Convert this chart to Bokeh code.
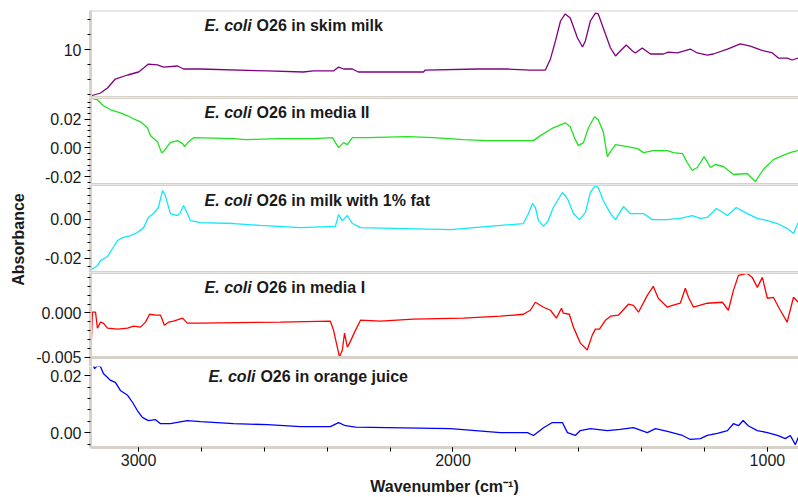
import math
from math import pi

from bokeh.plotting import figure
from bokeh.layouts import column, row
from bokeh.models import Range1d, SingleIntervalTicker, FixedTicker, NumeralTickFormatter, Label, Span
from bokeh.embed import file_html
from bokeh.resources import INLINE

# --- FTIR absorbance spectra of E. coli O26 in five matrices ---------------

wn_skim = [3153, 3121, 3099, 3074, 3035, 3000, 2984, 2969, 2940, 2921, 2876, 2857, 2803, 2590, 2476,
           2444, 2380, 2364, 2348, 2320, 2301, 2094, 2088, 1922, 1827, 1754, 1706, 1690, 1674, 1658,
           1643, 1627, 1604, 1588, 1579, 1563, 1547, 1538, 1522, 1499, 1483, 1468, 1449, 1429, 1420,
           1398, 1372, 1331, 1315, 1286, 1245, 1223, 1191, 1172, 1127, 1086, 1054, 1022, 984, 965,
           937, 921, 902]
abs_skim = [6.90, 7.10, 7.43, 8.03, 8.30, 8.50, 8.77, 9.03, 8.97, 8.83, 8.90, 8.70, 8.70, 8.57, 8.50,
            8.57, 8.57, 8.83, 8.70, 8.70, 8.50, 8.50, 8.63, 8.70, 8.70, 8.63, 8.63, 9.37, 10.57, 11.90,
            12.37, 12.10, 10.77, 10.17, 10.57, 11.90, 12.43, 12.37, 11.43, 10.10, 9.57, 9.90, 10.30, 9.90, 9.77,
            10.10, 9.70, 9.70, 9.83, 9.77, 10.03, 9.77, 9.63, 9.70, 10.03, 10.37, 10.23, 9.97, 9.77, 9.43,
            9.43, 9.30, 9.43]

wn_media2 = [3153, 3131, 3112, 3089, 3058, 3035, 3016, 2994, 2972, 2962, 2940, 2927, 2921, 2899, 2876,
             2860, 2854, 2841, 2825, 2698, 2660, 2549, 2444, 2383, 2374, 2364, 2348, 2336, 2320, 2272,
             2145, 2062, 1967, 1891, 1808, 1744, 1722, 1681, 1643, 1627, 1611, 1601, 1585, 1569, 1550,
             1538, 1522, 1509, 1499, 1483, 1445, 1413, 1394, 1363, 1318, 1299, 1270, 1255, 1239, 1223,
             1201, 1181, 1166, 1140, 1108, 1064, 1038, 1013, 981, 937, 917, 902]
abs_media2 = [0.0350, 0.0337, 0.0295, 0.0267, 0.0246, 0.0225, 0.0204, 0.0183, 0.0141, 0.0086,
              0.0044, -0.0033, -0.0026, 0.0037, 0.0051, 0.0030, 0.0009, 0.0044, 0.0072, 0.0065,
              0.0058, 0.0065, 0.0065, 0.0072, 0.0037, 0.0002, 0.0037, 0.0023, 0.0072, 0.0072,
              0.0079, 0.0072, 0.0058, 0.0051, 0.0051, 0.0051, 0.0086, 0.0141, 0.0176, 0.0148,
              0.0058, 0.0016, 0.0037, 0.0141, 0.0218, 0.0197, 0.0114, -0.0061, -0.0026, 0.0023,
              0.0009, -0.0005, -0.0033, -0.0019, -0.0019, -0.0033, -0.0040, -0.0102, -0.0158, -0.0137,
              -0.0061, -0.0137, -0.0116, -0.0130, -0.0186, -0.0179, -0.0235, -0.0151, -0.0082, -0.0040,
              -0.0026, -0.0019]

wn_fat = [3150, 3131, 3121, 3099, 3083, 3067, 3051, 3026, 3004, 2984, 2969, 2953, 2937, 2924, 2915,
          2899, 2876, 2867, 2857, 2845, 2835, 2803, 2698, 2612, 2485, 2374, 2364, 2352, 2336, 2320,
          2294, 2008, 1849, 1776, 1760, 1747, 1738, 1728, 1712, 1697, 1681, 1652, 1636, 1617, 1598,
          1579, 1563, 1547, 1538, 1522, 1499, 1483, 1458, 1436, 1394, 1366, 1318, 1277, 1239, 1213,
          1191, 1162, 1127, 1099, 1064, 1032, 1000, 968, 937, 917, 902]
abs_fat = [-0.0259, -0.0237, -0.0212, -0.0191, -0.0150, -0.0109, -0.0094, -0.0084, -0.0068, -0.0043,
           0.0009, 0.0029, 0.0060, 0.0147, 0.0122, 0.0029, 0.0019, 0.0034, 0.0070, 0.0029,
           -0.0007, -0.0017, -0.0022, -0.0032, -0.0043, -0.0037, 0.0024, -0.0007, 0.0019, -0.0022,
           -0.0043, -0.0053, -0.0032, -0.0022, 0.0029, 0.0081, 0.0060, -0.0007, -0.0037, -0.0007,
           0.0060, 0.0137, 0.0106, 0.0029, -0.0002, 0.0034, 0.0137, 0.0173, 0.0163, 0.0096,
           0.0029, -0.0002, 0.0065, 0.0029, 0.0029, -0.0002, -0.0002, 0.0004, 0.0019, 0.0004,
           0.0009, 0.0055, 0.0019, 0.0060, 0.0029, 0.0004, -0.0007, -0.0022, -0.0048, -0.0073,
           -0.0017]

wn_media1 = [3150, 3147, 3137, 3131, 3121, 3112, 3099, 3067, 3035, 3016, 2994, 2978, 2965, 2946, 2930,
             2918, 2905, 2889, 2860, 2845, 2803, 2549, 2390, 2380, 2368, 2361, 2352, 2345, 2336, 2329,
             2310, 2294, 2231, 2126, 1967, 1849, 1776, 1754, 1738, 1712, 1690, 1671, 1655, 1649, 1630,
             1617, 1595, 1573, 1557, 1547, 1534, 1515, 1499, 1474, 1442, 1426, 1410, 1382, 1363, 1347,
             1318, 1302, 1277, 1261, 1251, 1235, 1191, 1143, 1124, 1108, 1092, 1064, 1048, 1032, 1016,
             1000, 981, 959, 937, 917, 902]
abs_media1 = [-0.00306, 0.00008, 0.00008, -0.00172, -0.00104, -0.00115, -0.00172, -0.00183, -0.00172, -0.00149,
              -0.00160, -0.00104, -0.00015, -0.00026, -0.00026, -0.00138, -0.00104, -0.00093, -0.00059, -0.00115,
              -0.00115, -0.00104, -0.00093, -0.00194, -0.00385, -0.00497, -0.00418, -0.00228, -0.00385, -0.00340,
              -0.00194, -0.00082, -0.00093, -0.00071, -0.00059, -0.00037, -0.00015, 0.00030, 0.00120, 0.00064,
              0.00030, -0.00059, 0.00053, -0.00003, -0.00015, -0.00160, -0.00340, -0.00418, -0.00250, -0.00183,
              -0.00183, -0.00082, -0.00037, -0.00026, 0.00098, 0.00086, 0.00008, 0.00198, 0.00299, 0.00165,
              0.00064, 0.00086, 0.00109, 0.00277, 0.00176, 0.00064, 0.00109, 0.00120, 0.00030, 0.00254,
              0.00423, 0.00445, 0.00400, 0.00288, 0.00400, 0.00165, 0.00176, 0.00030, -0.00104, 0.00176,
              0.00120]

wn_oj = [3153, 3147, 3140, 3131, 3121, 3112, 3089, 3074, 3058, 3035, 3019, 3004, 2988, 2969, 2946,
         2930, 2899, 2845, 2803, 2698, 2590, 2485, 2390, 2364, 2342, 2310, 2008, 1849, 1763, 1744,
         1712, 1684, 1652, 1636, 1611, 1595, 1563, 1509, 1468, 1426, 1382, 1356, 1318, 1270, 1245,
         1213, 1191, 1159, 1127, 1108, 1092, 1077, 1061, 1032, 1000, 968, 943, 927, 911, 902]
abs_oj = [0.0235, 0.0245, 0.0224, 0.0235, 0.0231, 0.0207, 0.0183, 0.0176, 0.0148, 0.0131,
          0.0106, 0.0078, 0.0054, 0.0043, 0.0046, 0.0032, 0.0032, 0.0043, 0.0039, 0.0032,
          0.0029, 0.0022, 0.0022, 0.0036, 0.0025, 0.0020, 0.0015, 0.0001, 0.0001, -0.0009,
          0.0018, 0.0036, 0.0036, 0.0001, -0.0009, 0.0008, 0.0015, 0.0008, 0.0012, 0.0018,
          0.0001, 0.0015, 0.0005, -0.0009, -0.0023, -0.0020, -0.0009, -0.0002, 0.0008, 0.0032,
          0.0025, 0.0043, 0.0025, 0.0008, 0.0001, -0.0009, -0.0020, -0.0009, -0.0041, -0.0016]

sample_names = ["in skim milk", "in media II", "in milk with 1% fat", "in media I", "in orange juice"]
series_wn = [wn_skim, wn_media2, wn_fat, wn_media1, wn_oj]
series_abs = [abs_skim, abs_media2, abs_fat, abs_media1, abs_oj]
series_colors = ["#800080", "#1fe21f", "#10e8fa", "#ff0000", "#0000ff"]
y_limits = [(6.8, 12.6), (-0.0256, 0.0353), (-0.0273, 0.0178), (-0.00502, 0.00455), (-0.0051, 0.0263)]
y_steps = [5, 0.02, 0.02, 0.005, 0.02]
y_formats = ["0", "0.00", "0.00", "0.000", "0.00"]

# page layout in px: each panel's band, and the canvas frame that carries it
# (panel 4's frame runs a little past its band so its lowest tick label is not cut)
W, H = 798, 497
CAPTION_W = 30
FRAME_LEFT = 90
bands = [(10, 97), (97, 184), (184, 272), (272, 357), (357, 447)]
frames = [(10, 97), (97, 184), (184, 272), (272, 366), (366, 447)]
canvas_tops = [0, 97, 184, 272, 366]
BOTTOM_BORDER = H - frames[-1][1]
title_x = [2790, 2790, 2790, 2790, 2778]
title_frac = [0.83, 0.83, 0.82, 0.825, 0.79]

FONT = "Liberation Sans"
GRAY = "#d6d2ca"
TEXT = "#1a1a1a"

x_range = Range1d(3153, 901)


def multiples_within(lo, hi, step):
    k0 = math.ceil(lo / step - 1e-9)
    k1 = math.floor(hi / step + 1e-9)
    return [round(k * step, 10) for k in range(k0, k1 + 1)]


panels = []
n = len(series_wn)
for i in range(n):
    last = i == n - 1
    lo, hi = y_limits[i]
    band_top, band_bot = bands[i]
    frame_top, frame_bot = frames[i]
    per_px = (hi - lo) / (band_bot - band_top)
    y_start = lo - (frame_bot - band_bot) * per_px
    y_end = hi + (band_top - frame_top) * per_px

    canvas_bot = frame_bot + (BOTTOM_BORDER if last else 0)
    p = figure(width=W - CAPTION_W, height=canvas_bot - canvas_tops[i],
               x_range=x_range, y_range=Range1d(y_start, y_end),
               output_backend="svg", toolbar_location=None,
               x_axis_location="below" if last else None, y_axis_location="left",
               min_border_left=FRAME_LEFT - CAPTION_W, min_border_right=0,
               min_border_top=frame_top - canvas_tops[i],
               min_border_bottom=BOTTOM_BORDER if last else 0,
               background_fill_color="white", border_fill_color="white")
    p.outline_line_color = None
    p.xgrid.visible = False
    p.ygrid.visible = False

    major = multiples_within(lo, hi, y_steps[i])
    minor = [t for t in multiples_within(lo, hi, y_steps[i] / 5)
             if all(abs(t - m) > y_steps[i] * 1e-6 for m in major)]
    ya = p.yaxis[0]
    ya.ticker = FixedTicker(ticks=major, minor_ticks=minor)
    ya.bounds = (y_start, y_end)
    ya.formatter = NumeralTickFormatter(format=y_formats[i])
    ya.axis_line_color = GRAY
    ya.axis_line_width = 3
    ya.major_tick_line_color = "black"
    ya.minor_tick_line_color = "black"
    ya.major_tick_out = 6
    ya.major_tick_in = 0
    ya.minor_tick_out = 3
    ya.minor_tick_in = 0
    ya.major_label_standoff = 3
    ya.major_label_text_font = FONT
    ya.major_label_text_font_size = "16px"
    ya.major_label_text_color = TEXT

    if last:
        xa = p.xaxis[0]
        xa.ticker = SingleIntervalTicker(interval=1000, num_minor_ticks=5)
        xa.axis_line_color = GRAY
        xa.axis_line_width = 3
        xa.major_tick_line_color = "black"
        xa.minor_tick_line_color = "black"
        xa.major_tick_out = 4
        xa.major_tick_in = 0
        xa.minor_tick_out = 4
        xa.minor_tick_in = 0
        xa.major_label_standoff = 2
        xa.major_label_text_font = FONT
        xa.major_label_text_font_size = "16px"
        xa.major_label_text_color = TEXT
        xa.axis_label = "Wavenumber (cm\u207b\u00b9)"
        xa.axis_label_text_font = FONT
        xa.axis_label_text_font_style = "bold"
        xa.axis_label_text_font_size = "16px"
        xa.axis_label_text_color = TEXT
        xa.axis_label_standoff = 9

    # panel separators
    p.add_layout(Span(location=hi, dimension="width", line_color=GRAY,
                      line_width=2 if i == 0 else 3))
    if not last:
        p.add_layout(Span(location=lo, dimension="width", line_color=GRAY, line_width=3))

    p.line(series_wn[i], series_abs[i], line_color=series_colors[i], line_width=1.3)

    ty = lo + title_frac[i] * (hi - lo)
    p.add_layout(Label(x=title_x[i], y=ty, text="E. coli", text_font=FONT,
                       text_font_style="bold italic", text_font_size="16px",
                       text_baseline="middle", text_color=TEXT))
    p.add_layout(Label(x=title_x[i], y=ty, x_offset=52, text="O26 " + sample_names[i],
                       text_font=FONT, text_font_style="bold", text_font_size="16px",
                       text_baseline="middle", text_color=TEXT))
    panels.append(p)

# narrow strip on the left carrying the shared y-axis caption
cap = figure(width=CAPTION_W, height=H, x_range=Range1d(0, CAPTION_W), y_range=Range1d(0, H),
             output_backend="svg", toolbar_location=None, x_axis_location=None, y_axis_location=None,
             min_border_left=0, min_border_right=0, min_border_top=0, min_border_bottom=0,
             background_fill_color="white", border_fill_color="white")
cap.outline_line_color = None
cap.xgrid.visible = False
cap.ygrid.visible = False
cap.add_layout(Label(x=18, y=H - 239, text="Absorbance", angle=pi / 2,
                     text_align="center", text_baseline="middle", text_font=FONT,
                     text_font_style="bold", text_font_size="16px", text_color=TEXT))

layout = row(cap, column(*panels, spacing=0), spacing=0)

with open("out.html", "w") as f:
    f.write(file_html(layout, INLINE))
